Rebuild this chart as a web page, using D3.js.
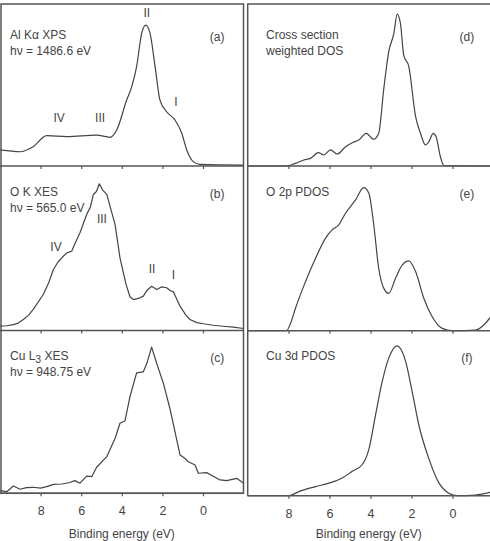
<!DOCTYPE html>
<html>
<head>
<meta charset="utf-8">
<script src="https://cdn.jsdelivr.net/npm/d3@7"></script>
<style>
  body { margin: 0; background: #fff; }
  svg { display: block; opacity: 0.999; }
  text { font-family: "Liberation Sans", Arial, sans-serif; fill: #444; }
</style>
</head>
<body>
<svg id="chart" width="490" height="541"></svg>
<script>
// binding energy (eV) / intensity (arb. units, 0-100) for each panel
var ticks = [8, 6, 4, 2, 0];

var energyA = [10, 9.01, 8.37, 7.7, 6.71, 5.24, 4.58, 4.25, 3.76, 3.51, 3.27, 3.02, 2.82, 2.61, 2.36, 2.12, 1.79, 1.38, 1.05, 0.8, 0.48, 0.15, -2];
var intensA = [9.9, 8.8, 11.9, 18.7, 18.1, 19.1, 17.7, 22.2, 40.7, 49, 61.3, 82, 87, 82, 61.3, 40.7, 33.5, 28.4, 20.4, 9.9, 2.7, 1, 0.6];

var energyB = [10, 9.67, 9.34, 9.1, 8.85, 8.6, 8.36, 7.87, 7.6, 7.37, 7.15, 6.96, 6.71, 6.47, 6.3, 6.06, 5.73, 5.55, 5.4, 5.25, 5.11, 4.95, 4.74, 4.33, 4.09, 3.79, 3.6, 3.43, 3.19, 2.94, 2.75, 2.53, 2.28, 2.05, 1.79, 1.6, 1.46, 1.13, 0.85, 0.64, 0.3, -0.02, -0.5, -1, -1.49, -2];
var intensB = [2.6, 2.9, 3.6, 4.5, 6.7, 9.2, 12.8, 21.9, 29, 37.1, 41.5, 44.2, 47.2, 48.2, 53, 59.4, 70.5, 75, 82.7, 84.5, 89.2, 85.5, 82.7, 64.4, 44.2, 28, 20.5, 18.8, 19.5, 20.9, 24.5, 26.9, 24.9, 26.5, 26, 24.2, 23.5, 14.8, 9.5, 6.7, 4.8, 4.1, 3.2, 2.6, 2, 1.2];

var energyC = [10, 9.67, 9.34, 9.01, 8.7, 8.36, 8.0, 7.7, 7.37, 6.96, 6.6, 6.31, 6.06, 5.73, 5.48, 5.24, 4.74, 4.33, 4.09, 3.84, 3.6, 3.27, 2.94, 2.77, 2.53, 2.28, 1.95, 1.63, 1.13, 0.9, 0.72, 0.39, 0.23, -0.18, -0.5, -0.84, -1.17, -1.66, -2];
var intensC = [1.6, 1, 4.5, 2.5, 3.5, 3.7, 3.2, 4.1, 5.5, 5.7, 6.5, 7.8, 6.2, 10.6, 10.2, 16, 22.5, 33.8, 43, 44.6, 59.3, 74, 74.6, 79.7, 89.8, 79.7, 67.5, 52.1, 23.5, 21.5, 19.4, 17.4, 12.3, 12.7, 10.5, 8.2, 7.8, 9.2, 6.2];

var energyD = [10, 8.1, 7.66, 7.25, 6.93, 6.55, 6.28, 5.95, 5.62, 5.22, 4.89, 4.57, 4.21, 3.84, 3.6, 3.35, 3.11, 2.86, 2.7, 2.54, 2.38, 2.13, 1.8, 1.56, 1.32, 1.15, 0.94, 0.8, 0.59, 0.42, -2];
var intensD = [0, 0, 1.6, 3.7, 4.7, 8.2, 6.8, 9.9, 7.4, 11.9, 14.4, 16, 20.2, 16.5, 20.2, 47.9, 70.6, 81.9, 93.8, 88.1, 68.5, 61.3, 30.5, 20.2, 13, 15, 20.2, 18.1, 5.7, 0.3, 0];

var energyE = [10, 8.1, 7.9, 7.66, 7.17, 6.68, 6.2, 5.87, 5.55, 5.22, 4.73, 4.33, 4.08, 3.84, 3.6, 3.35, 3.11, 2.78, 2.45, 2.13, 1.8, 1.4, 0.99, 0.5, 0.01, -1.12, -1.61, -2];
var intensE = [0, 0, 4.5, 13.6, 29.8, 44, 56.1, 61.2, 64.2, 71.3, 79.4, 86.9, 83.5, 64.2, 37.9, 25.7, 22.7, 31.8, 39.9, 42.4, 35.9, 19.7, 8.5, 1.4, 0, 0.4, 4.5, 11];

var energyF = [10, 7.98, 7.5, 6.68, 6.03, 5.38, 4.89, 4.4, 4.08, 3.76, 3.43, 3.11, 2.7, 2.29, 1.97, 1.64, 1.15, 0.67, 0.18, -0.23, -1.12, -2];
var intensF = [0, 0, 2.5, 5.5, 7.6, 10.7, 14.8, 18.9, 28.1, 48.6, 69.1, 83.4, 90.8, 81.6, 63.2, 42.7, 22.3, 7.9, 1.5, 0, 0.4, 2.5];

// peak labels (energy, intensity, text)
var peaksA = [[2.77, 92.2, "II"], [1.33, 37, "I"], [7.09, 27.3, "IV"], [5.07, 27.3, "III"]];
var peaksB = [[4.98, 65.5, "III"], [7.24, 48.5, "IV"], [2.51, 34.8, "II"], [1.46, 31.3, "I"]];

var svg = d3.select("#chart");

var xLeft  = d3.scaleLinear().domain([10, -2]).range([0, 243.6]),
    xRight = d3.scaleLinear().domain([10, -2]).range([247.5, 493.5]);

var panels = [
    {x: xLeft,  top: 4,     bottom: 166,   e: energyA, v: intensA, smooth: true,  tag: "(a)", lines: ["Al K\u03b1 XPS", "h\u03bd = 1486.6 eV"], peaks: peaksA},
    {x: xLeft,  top: 166,   bottom: 330.5, e: energyB, v: intensB, smooth: false, tag: "(b)", lines: ["O K XES", "h\u03bd = 565.0 eV"], peaks: peaksB},
    {x: xLeft,  top: 330.5, bottom: 493.3, e: energyC, v: intensC, smooth: false, tag: "(c)", lines: ["Cu L3 XES", "h\u03bd = 948.75 eV"], peaks: [], last: true},
    {x: xRight, top: 4,     bottom: 166,   e: energyD, v: intensD, smooth: true,  tag: "(d)", lines: ["Cross section", "weighted DOS"], peaks: []},
    {x: xRight, top: 166,   bottom: 330.7, e: energyE, v: intensE, smooth: true,  tag: "(e)", lines: ["O 2p PDOS"], peaks: []},
    {x: xRight, top: 330.7, bottom: 495.7, e: energyF, v: intensF, smooth: true,  tag: "(f)", lines: ["Cu 3d PDOS"], peaks: [], last: true}
];

panels.forEach(function(p){
    // intensity scale: 100 = full panel height
    var y = d3.scaleLinear().domain([0, 100]).range([p.bottom, p.top]);
    var x0 = p.x.range()[0], x1 = Math.min(p.x.range()[1], 490);
    var g = svg.append("g");

    var pts = p.e.map(function(d, i){ return [d, p.v[i]]; });
    var line = d3.line()
        .x(function(d){ return p.x(d[0]); })
        .y(function(d){ return y(d[1]); })
        .curve(p.smooth ? d3.curveMonotoneX : d3.curveLinear);

    g.append("path")
        .datum(pts)
        .attr("d", line)
        .attr("fill", "none")
        .attr("stroke", "#444")
        .attr("stroke-width", 1.2)
        .attr("stroke-linejoin", "round");

    // bottom axis, ticks pointing down
    var axis = d3.axisBottom(p.x).tickValues(ticks).tickSize(3).tickPadding(10)
        .tickFormat(p.last ? d3.format("d") : "");
    var ax = g.append("g")
        .attr("transform", "translate(0," + p.bottom + ")")
        .call(axis);
    ax.select(".domain").remove();
    ax.selectAll(".tick line").attr("stroke", "#555").attr("stroke-width", 1.2);
    ax.selectAll(".tick text")
        .attr("fill", "#444")
        .style("font-size", "12.5px")
        .style("font-family", "'Liberation Sans', Arial, sans-serif");
    g.append("line")
        .attr("x1", x0).attr("x2", x1)
        .attr("y1", p.bottom).attr("y2", p.bottom)
        .attr("stroke", "#555").attr("stroke-width", 1.5);

    // panel text
    var tx = x0 + (p.x === xLeft ? 10 : 18.5);
    var base = p.top + (p.top < 10 ? 35 : 29.5);
    p.lines.forEach(function(t, i){
        var txt = g.append("text")
            .attr("x", tx)
            .attr("y", base + i * 16)
            .style("font-size", "12px");
        if (t === "Cu L3 XES") {
            txt.append("tspan").text("Cu L");
            txt.append("tspan").attr("dy", 3).style("font-size", "10.5px").text("3");
            txt.append("tspan").attr("dy", -3).text(" XES");
        } else {
            txt.text(t);
        }
    });
    g.append("text")
        .attr("x", p.x(-0.7))
        .attr("y", base + 2)
        .attr("text-anchor", "middle")
        .style("font-size", "12px")
        .text(p.tag);

    g.selectAll(".peak")
        .data(p.peaks)
        .enter().append("text")
        .attr("class", "peak")
        .attr("x", function(d){ return p.x(d[0]); })
        .attr("y", function(d){ return y(d[1]); })
        .attr("text-anchor", "middle")
        .style("font-size", "12px")
        .text(function(d){ return d[2]; });

    if (p.last) {
        svg.append("text")
            .attr("x", (x0 + x1) / 2)
            .attr("y", 537.5)
            .attr("text-anchor", "middle")
            .style("font-size", "12px")
            .text("Binding energy (eV)");
    }
});

// column frames
svg.append("rect")
    .attr("x", 1).attr("y", 4).attr("width", 242.5).attr("height", 489.3)
    .attr("fill", "none").attr("stroke", "#555").attr("stroke-width", 1.5);
svg.append("path")
    .attr("d", "M491,4H247.7V495.7")
    .attr("fill", "none").attr("stroke", "#555").attr("stroke-width", 1.5);
</script>
</body>
</html>
